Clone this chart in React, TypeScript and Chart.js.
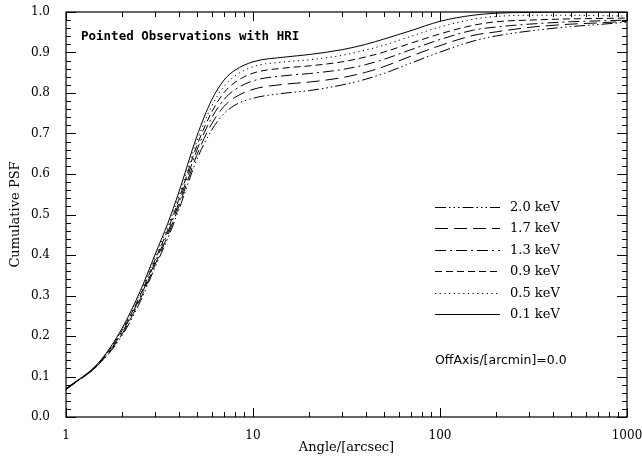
import React, { useEffect, useRef } from "react";
import { Chart, registerables } from "chart.js";

Chart.register(...registerables);

const ANGLES = [1, 1.5, 2, 2.5, 3, 3.5, 4, 5, 6, 7, 8, 10, 15, 20, 30, 40, 50, 70, 100, 150, 200, 300, 500, 700, 1000];

const PSF_01 = [0.070, 0.135, 0.220, 0.312, 0.402, 0.478, 0.553, 0.692, 0.782, 0.832, 0.856, 0.877, 0.889, 0.895, 0.907, 0.920, 0.933, 0.954, 0.977, 0.992, 0.997, 0.999, 1.0, 1.0, 1.0];
const PSF_05 = [0.070, 0.134, 0.217, 0.307, 0.395, 0.470, 0.543, 0.680, 0.767, 0.816, 0.842, 0.865, 0.877, 0.882, 0.893, 0.906, 0.918, 0.940, 0.963, 0.982, 0.989, 0.992, 0.992, 0.991, 0.990];
const PSF_09 = [0.069, 0.133, 0.214, 0.302, 0.389, 0.462, 0.535, 0.669, 0.752, 0.801, 0.826, 0.849, 0.862, 0.867, 0.877, 0.889, 0.901, 0.923, 0.946, 0.967, 0.976, 0.980, 0.983, 0.984, 0.985];
const PSF_13 = [0.069, 0.132, 0.210, 0.297, 0.383, 0.455, 0.527, 0.658, 0.738, 0.784, 0.808, 0.830, 0.843, 0.848, 0.858, 0.870, 0.883, 0.907, 0.932, 0.955, 0.963, 0.970, 0.976, 0.978, 0.980];
const PSF_17 = [0.068, 0.131, 0.206, 0.292, 0.377, 0.448, 0.518, 0.646, 0.723, 0.767, 0.789, 0.809, 0.822, 0.827, 0.838, 0.851, 0.865, 0.891, 0.917, 0.942, 0.951, 0.962, 0.970, 0.973, 0.977];
const PSF_20 = [0.068, 0.130, 0.202, 0.286, 0.371, 0.441, 0.510, 0.635, 0.708, 0.749, 0.770, 0.787, 0.800, 0.806, 0.820, 0.834, 0.848, 0.874, 0.901, 0.928, 0.941, 0.953, 0.964, 0.969, 0.975];

const SERIES_LABELS = ["2.0 keV", "1.7 keV", "1.3 keV", "0.9 keV", "0.5 keV", "0.1 keV"];
const SERIES_VALUES = [PSF_20, PSF_17, PSF_13, PSF_09, PSF_05, PSF_01];
const SERIES_DASHES: number[][] = [
  [11, 3, 1.5, 3, 1.5, 3, 1.5, 3],
  [13, 6],
  [11, 4, 2, 4],
  [7, 4],
  [1.2, 3.5],
  [],
];

const Y_TICKS_MAJOR = [0, 0.1, 0.2, 0.3, 0.4, 0.5, 0.6, 0.7, 0.8, 0.9, 1.0];
const X_TICK_LABELS = [1, 10, 100, 1000];

const TITLE_TEXT = "Pointed Observations with HRI";
const OFFAXIS_TEXT = "OffAxis/[arcmin]=0.0";

const framePlugin = {
  id: "frame",
  afterDraw(chart: any) {
    const { ctx, chartArea } = chart;
    const { left, right, top, bottom } = chartArea;
    const xs = chart.scales.x;
    const ys = chart.scales.y;
    ctx.save();
    ctx.strokeStyle = "#000";
    ctx.lineWidth = 1.2;
    ctx.setLineDash([]);
    ctx.strokeRect(left, top, right - left, bottom - top);

    ctx.lineWidth = 1;
    ctx.beginPath();
    for (let i = 0; i <= 50; i++) {
      const v = i * 0.02;
      const p = Math.round(ys.getPixelForValue(v)) + 0.5;
      const len = i % 5 === 0 ? 10 : 5;
      ctx.moveTo(left, p);
      ctx.lineTo(left + len, p);
      ctx.moveTo(right, p);
      ctx.lineTo(right - len, p);
    }
    for (let d = 1; d < 1000; d *= 10) {
      for (let m = 1; m <= 10; m++) {
        const v = d * m;
        const p = Math.round(xs.getPixelForValue(v)) + 0.5;
        const len = m === 1 || m === 10 ? 9 : 5;
        ctx.moveTo(p, bottom);
        ctx.lineTo(p, bottom - len);
        ctx.moveTo(p, top);
        ctx.lineTo(p, top + len);
      }
    }
    ctx.stroke();

    ctx.fillStyle = "#000";
    ctx.textBaseline = "middle";
    ctx.textAlign = "left";
    ctx.font = "bold 12.5px 'DejaVu Sans Mono'";
    ctx.fillText(TITLE_TEXT, 81, 37);
    ctx.font = "12.5px 'DejaVu Sans'";
    ctx.fillText(OFFAXIS_TEXT, 435, 361);

    ctx.font = "13px 'DejaVu Serif'";
    const rowY0 = 207;
    const rowStep = 21.4;
    chart.data.datasets.forEach((ds: any, i: number) => {
      const y = Math.round(rowY0 + i * rowStep) + 0.5;
      ctx.beginPath();
      ctx.setLineDash(ds.borderDash || []);
      ctx.lineWidth = 1;
      ctx.moveTo(435, y);
      ctx.lineTo(500, y);
      ctx.stroke();
      ctx.setLineDash([]);
      ctx.fillText(ds.label, 510, y);
    });
    ctx.restore();
  },
};

export default function App() {
  const canvasRef = useRef<HTMLCanvasElement | null>(null);

  useEffect(() => {
    document.body.style.margin = "0";
    const canvas = canvasRef.current;
    if (!canvas) return;
    const datasets = SERIES_LABELS.map((label, i) => ({
      label,
      data: ANGLES.map((x, j) => ({ x, y: SERIES_VALUES[i][j] })),
      borderColor: "#000",
      borderWidth: 1,
      borderDash: SERIES_DASHES[i],
      pointRadius: 0,
      fill: false,
      cubicInterpolationMode: "monotone" as const,
    }));
    const chart = new Chart(canvas, {
      type: "line",
      data: { datasets },
      plugins: [framePlugin],
      options: {
        responsive: false,
        animation: false,
        layout: { padding: { top: 12, right: 15, left: 0, bottom: 0 } },
        plugins: { legend: { display: false }, tooltip: { enabled: false } },
        scales: {
          x: {
            type: "logarithmic",
            min: 1,
            max: 1000,
            grid: { display: false },
            border: { display: false },
            afterFit: (s: any) => { s.height = 46; s.paddingLeft = 0; s.paddingRight = 0; },
            afterBuildTicks: (s: any) => { s.ticks = X_TICK_LABELS.map((v) => ({ value: v })); },
            ticks: {
              autoSkip: false,
              maxRotation: 0,
              padding: 4,
              color: "#000",
              font: { family: "DejaVu Serif", size: 12 },
              callback: (v: any) => String(v),
            },
            title: {
              display: true,
              text: "Angle/[arcsec]",
              color: "#000",
              font: { family: "DejaVu Serif", size: 13 },
              padding: { top: 4, bottom: 8 },
            },
          },
          y: {
            min: 0,
            max: 1,
            grid: { display: false },
            border: { display: false },
            afterFit: (s: any) => { s.width = 66; s.paddingTop = 0; s.paddingBottom = 0; },
            afterBuildTicks: (s: any) => { s.ticks = Y_TICKS_MAJOR.map((v) => ({ value: v })); },
            ticks: {
              padding: 8,
              color: "#000",
              font: { family: "DejaVu Serif", size: 12 },
              callback: (v: any) => Number(v).toFixed(1),
            },
            title: {
              display: true,
              text: "Cumulative PSF",
              color: "#000",
              font: { family: "DejaVu Serif", size: 13 },
              padding: { top: 8, bottom: 6 },
            },
          },
        },
      },
    } as any);
    return () => chart.destroy();
  }, []);

  return (
    <div style={{ position: "absolute", left: 0, top: 0, width: 642, height: 463, background: "#fff" }}>
      <canvas ref={canvasRef} width={642} height={463} style={{ width: 642, height: 463, display: "block" }} />
    </div>
  );
}
